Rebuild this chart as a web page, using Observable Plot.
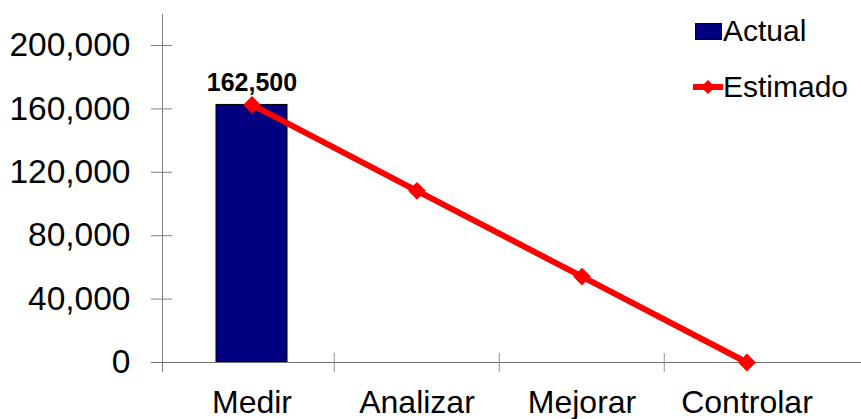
<!DOCTYPE html>
<html>
<head>
<meta charset="utf-8">
<script src="https://cdn.jsdelivr.net/npm/d3@7"></script>
<script src="https://cdn.jsdelivr.net/npm/@observablehq/plot@0.6"></script>
<style>
  html, body { margin: 0; padding: 0; background: #fff; }
  #wrap { position: relative; width: 861px; height: 419px; font-family: "Liberation Sans", Arial, sans-serif; }
  #legend { position: absolute; left: 693px; top: 14px; font-size: 30px; color: #000; }
  .item { position: relative; height: 34px; display: flex; align-items: center; }
  .sw-bar { width: 25px; height: 15px; background: #000080; border: 1px solid #000; margin-left: 2px; margin-right: 1px; }
  .sw-line { position: relative; width: 30px; height: 20px; }
  .sw-line .ln { position: absolute; left: 0; top: 7px; width: 30px; height: 6px; background: #ff0000; }
  .sw-line .dm { position: absolute; left: 10px; top: 5px; width: 10px; height: 10px; background: #ff0000; transform: rotate(45deg); }
</style>
</head>
<body>
<div id="wrap"></div>
<script>
const categories = ["Medir", "Analizar", "Mejorar", "Controlar"];
const actualValues = [162500, null, null, null];
const estimadoValues = [162500, 108300, 54200, 0];
const yTicks = [0, 40000, 80000, 120000, 160000, 200000];
const barLabels = ["162,500", "", "", ""];
const seriesNames = ["Actual", "Estimado"];

const barData = categories.map((c, i) => ({cat: c, value: actualValues[i], label: barLabels[i]})).filter(d => d.value != null);
const lineData = categories.map((c, i) => ({cat: c, value: estimadoValues[i]}));
const fmt = d3.format(",");
const font = "'Liberation Sans', Arial, sans-serif";

const chart = Plot.plot({
  width: 861,
  height: 419,
  marginLeft: 151,
  marginRight: 0,
  marginTop: 14,
  marginBottom: 48,
  style: {fontFamily: font, background: "#fff", color: "#000", overflow: "visible"},
  x: {domain: categories, range: [168, 830], padding: 0, axis: null},
  y: {domain: [0, 220000], range: [362, 13.3], axis: null},
  marks: [
    Plot.frame({anchor: "left", stroke: "#808080", dx: 11}),
    Plot.ruleY(yTicks, {stroke: "#808080", insetRight: 861 - 172}),
    Plot.axisY({ticks: yTicks, tickSize: 0, tickPadding: 21, tickFormat: fmt, fontSize: 33.5, fill: "#000", label: null}),
    Plot.barY(barData, {x: "cat", y: "value", fill: "#000080", stroke: "#000", strokeWidth: 1, insetLeft: 47, insetRight: 47}),
    Plot.ruleY([0], {stroke: "#707070"}),
    Plot.ruleX(categories.slice(1), {x: d => d, y1: -6300, y2: 5700, stroke: "#909090", dx: -82.75}),
    Plot.axisX({tickSize: 0, tickPadding: 19, fontSize: 32, fill: "#000", label: null}),
    Plot.line(lineData, {x: "cat", y: "value", stroke: "#ff0000", strokeWidth: 6}),
    Plot.dot(lineData, {x: "cat", y: "value", symbol: "diamond2", r: 8, fill: "#ff0000", stroke: "none"}),
    Plot.text(barData, {x: "cat", y: "value", text: "label", dy: -22, fontSize: 25, fontWeight: "bold", fill: "#000"})
  ]
});

const wrap = document.getElementById("wrap");
wrap.appendChild(chart);
const legend = document.createElement("div");
legend.id = "legend";
legend.innerHTML =
  `<div class="item"><span class="sw-bar"></span><span>${seriesNames[0]}</span></div>` +
  `<div class="item" style="margin-top:22px"><span class="sw-line"><span class="ln"></span><span class="dm"></span></span><span>${seriesNames[1]}</span></div>`;
wrap.appendChild(legend);
</script>
</body>
</html>
